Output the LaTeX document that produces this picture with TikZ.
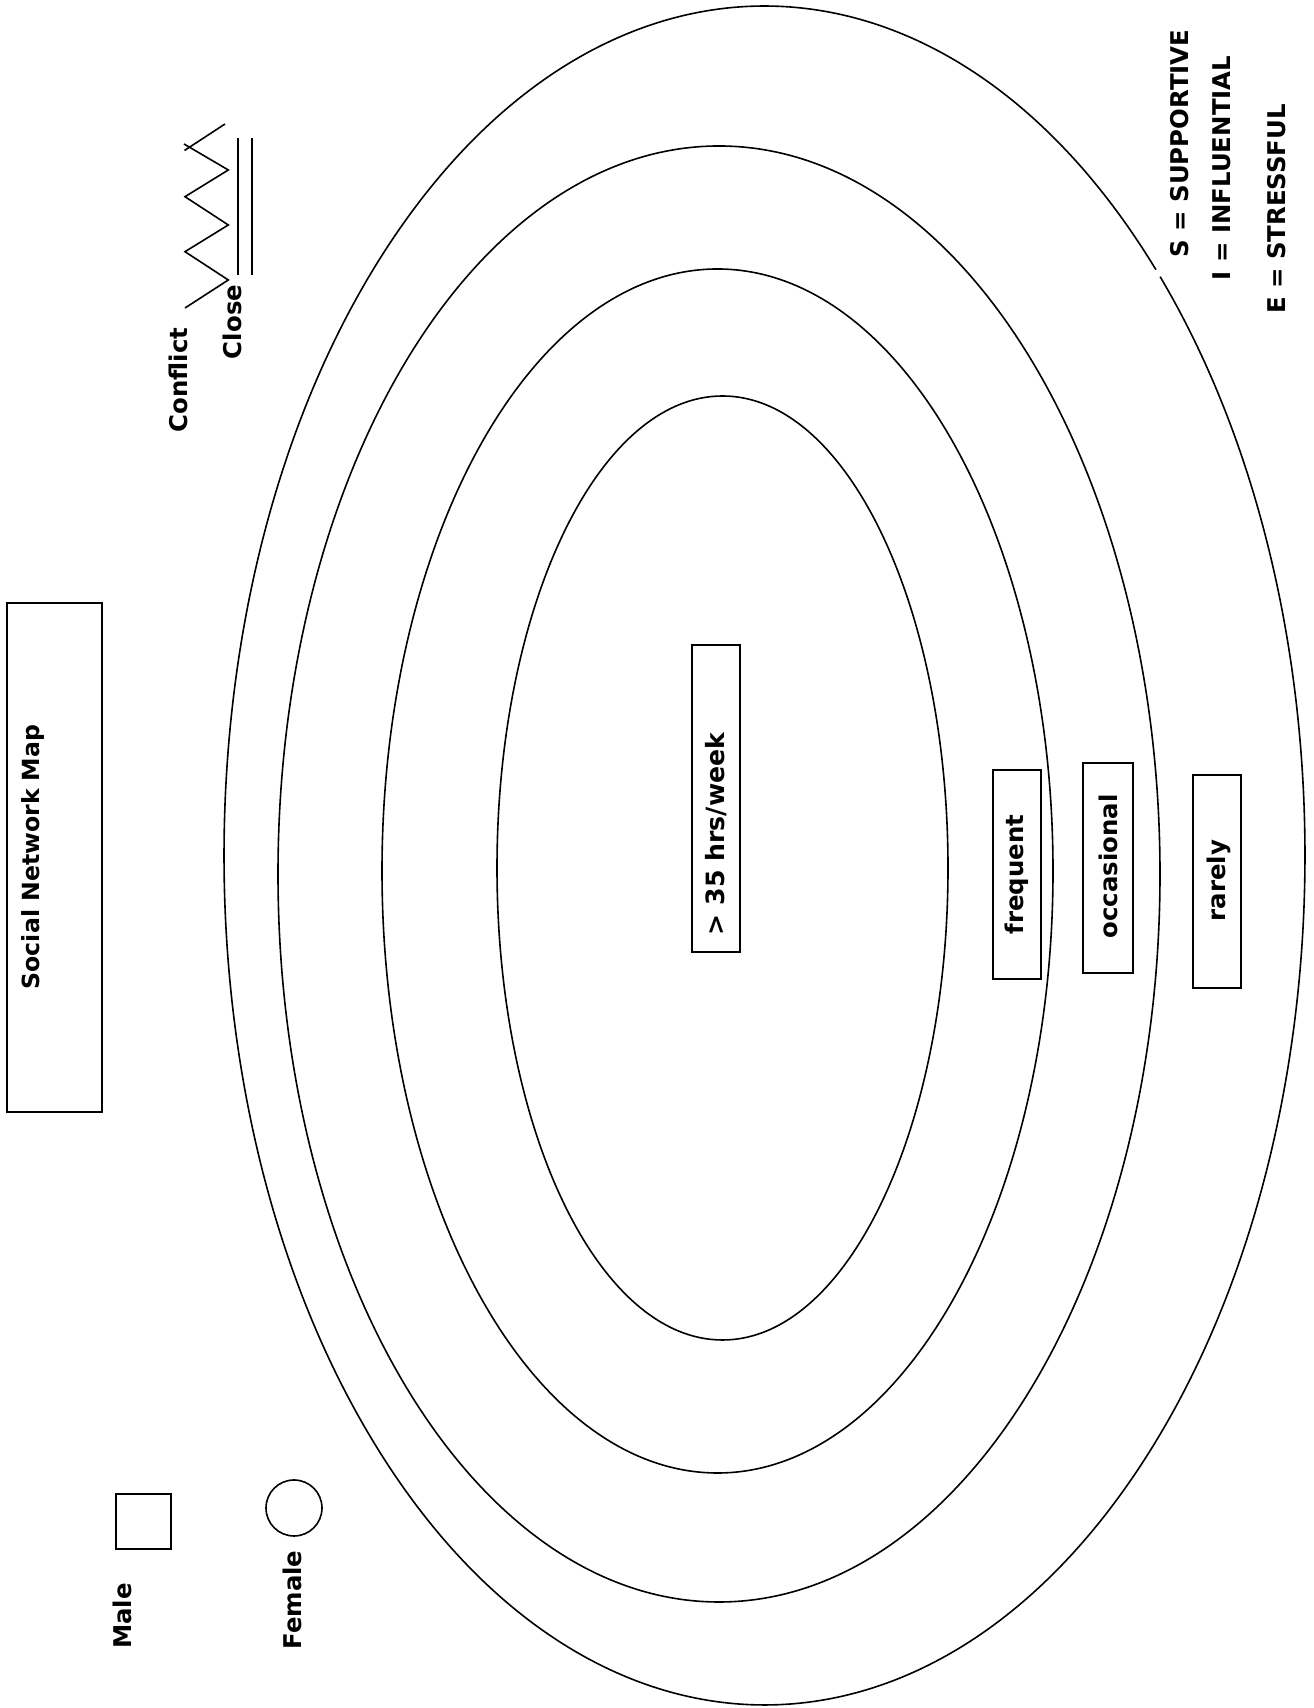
\documentclass[tikz,border=0pt]{standalone}
\usepackage{fontspec}
\setmainfont{DejaVu Sans}
\begin{document}
\begin{tikzpicture}[x=0.5pt,y=0.5pt,
  ln/.style={line width=0.8pt},
  frame/.style={draw, line width=0.8pt, inner sep=0pt},
  lbl/.style={font=\bfseries\fontsize{12.2}{14}\selectfont, rotate=90, inner sep=0pt}]
\useasboundingbox (0,0) rectangle (1313,1708);
% rings
\draw[ln] (764.5,852.5) ++(43.6:540.5 and 849.5) arc[start angle=43.6, end angle=402.95, x radius=540.5, y radius=849.5];
\draw[ln] (719,834) ellipse [x radius=441, y radius=728];
\draw[ln] (717.5,837) ellipse [x radius=335.5, y radius=602];
\draw[ln] (722.5,840) ellipse [x radius=225.5, y radius=472];
% title
\node[frame, minimum width=47.5pt, minimum height=254.5pt] (titlebox) at (54.5,850.5) {};
\node[lbl, font=\bfseries\fontsize{11.8}{14}\selectfont] (title) at (33,851) {Social Network Map};
% ring labels
\node[frame, minimum width=24pt, minimum height=153.5pt] (hrsbox) at (716,909.5) {};
\node[lbl, font=\bfseries\fontsize{12.6}{14}\selectfont] (hrs) at (716,874) {> 35 hrs/week};
\node[frame, minimum width=24pt, minimum height=104.5pt] (freqbox) at (1017,833.5) {};
\node[lbl] (freq) at (1017,833.5) {frequent};
\node[frame, minimum width=25pt, minimum height=105pt] (occbox) at (1108,840) {};
\node[lbl] (occ) at (1108,841.5) {occasional};
\node[frame, minimum width=24pt, minimum height=106.5pt] (rarebox) at (1217,826.5) {};
\node[lbl] (rare) at (1219,827.5) {rarely};
% legend right
\node[lbl] (sup) at (1180,1564.5) {S = SUPPORTIVE};
\node[lbl] (inf) at (1222,1540) {I = INFLUENTIAL};
\node[lbl] (str) at (1277,1499) {E = STRESSFUL};
% conflict / close
\node[lbl] (conflict) at (178,1328) {Conflict};
\node[lbl] (close) at (232,1386) {Close};
\coordinate (z0) at (185,1400);
\coordinate (z1) at (228.3,1428);
\coordinate (z2) at (185,1456.3);
\coordinate (z3) at (228.3,1483);
\coordinate (z4) at (185,1511.3);
\coordinate (z5) at (228.3,1538);
\coordinate (z6) at (184,1564);
\coordinate (za) at (225,1584);
\coordinate (zb) at (184.5,1557.5);
\draw[ln, line join=miter] (z0) -- (z1) -- (z2) -- (z3) -- (z4) -- (z5) -- (z6);
\draw[ln] (za) -- (zb);
\coordinate (c1a) at (238,1433);
\coordinate (c1b) at (238,1570);
\coordinate (c2a) at (252,1433);
\coordinate (c2b) at (252,1570);
\draw[ln] (c1a) -- (c1b);
\draw[ln] (c2a) -- (c2b);
% male / female
\node[frame, minimum width=27.5pt, minimum height=27.5pt] (male) at (143.5,186.5) {};
\node[lbl] (malet) at (122,92) {Male};
\node[draw, line width=0.8pt, circle, minimum size=28pt, inner sep=0pt] (female) at (294,200) {};
\node[lbl] (femalet) at (292,108) {Female};
\end{tikzpicture}
\end{document}
